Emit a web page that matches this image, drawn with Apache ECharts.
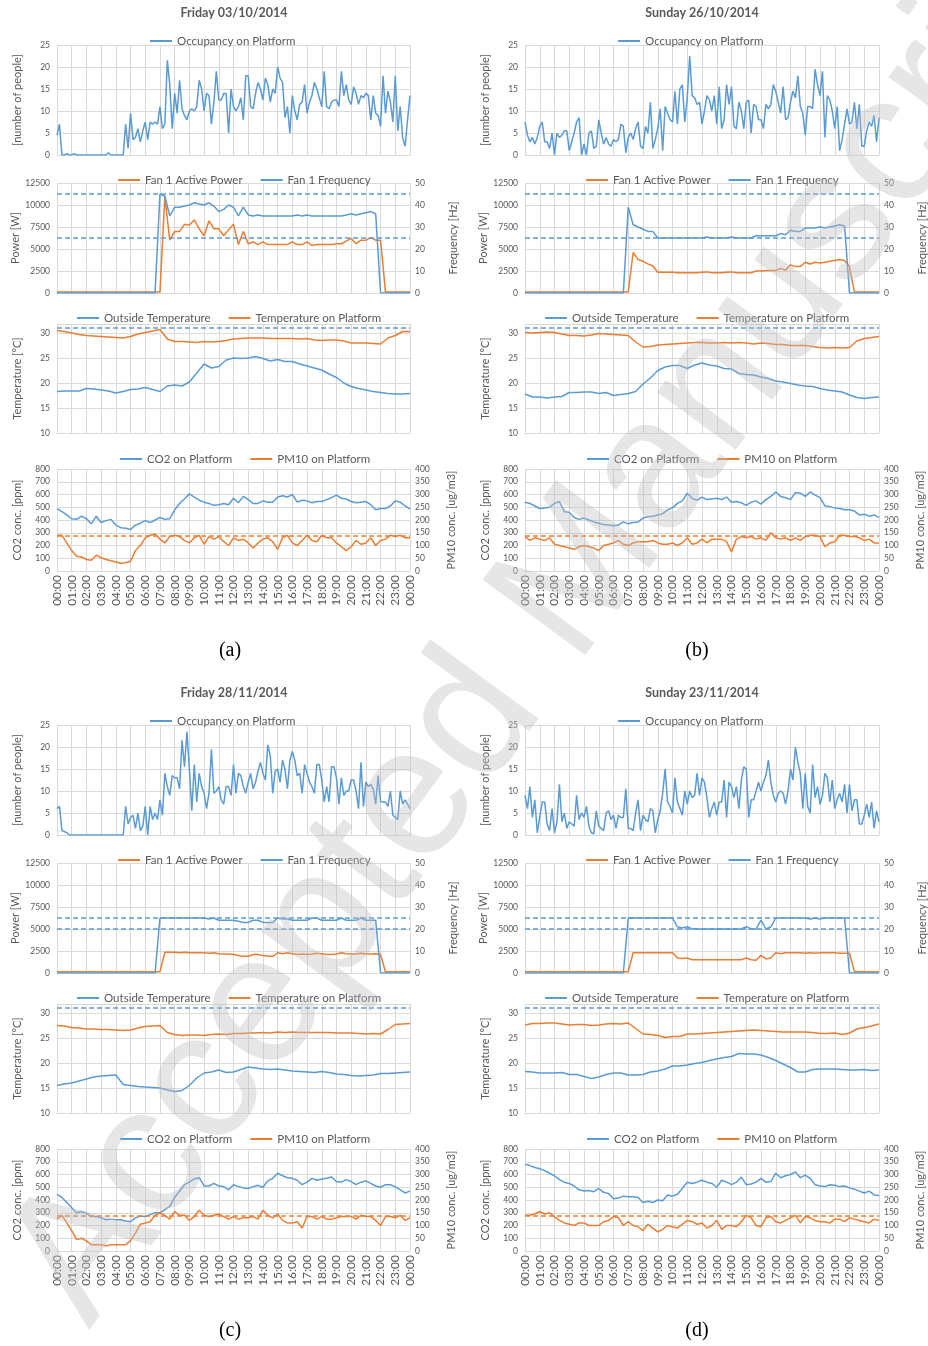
<!DOCTYPE html>
<html>
<head>
<meta charset="utf-8">
<script src="https://cdn.jsdelivr.net/npm/echarts@6/dist/echarts.min.js"></script>
<style>
  html, body { margin: 0; padding: 0; background: #fff; }
  #chart { width: 928px; height: 1346px; }
</style>
</head>
<body>
<div id="chart"></div>
<script>
// ---- data ----
const hourLabels = ['00:00','01:00','02:00','03:00','04:00','05:00','06:00','07:00','08:00','09:00','10:00','11:00',
  '12:00','13:00','14:00','15:00','16:00','17:00','18:00','19:00','20:00','21:00','22:00','23:00','00:00'];
const panelTitles = ['Friday 03/10/2014', 'Sunday 26/10/2014', 'Friday 28/11/2014', 'Sunday 23/11/2014'];
const captions = ['(a)', '(b)', '(c)', '(d)'];

// occupancy, one value every 10 min (one row per hour)
const occA = [4.5,7,0,0,0.3,0, 0,0.3,0,0,0,0, 0,0,0,0,0,0, 0,0,0,0.5,0,0,
  0,0,0,0,7,1.5, 9.5,3.5,4,6,3,5.5, 7.5,3.5,7.5,7,7.5,7, 11,6,7,21.5,16,6,
  14,9.5,17,10.5,9,8, 10,10.5,10,11,17,15, 10,14,13.5,7,12,19, 12.5,12.5,14,14,5,15,
  11,10,11,13,8,18, 18,11,10.5,14,16.5,15, 12.5,17.5,16,12,15,14, 20,17.5,16.5,8.5,11,5,
  13.5,10,8,11.5,12,16, 9.5,12,13.5,16.5,15,13, 11,19,11,10.5,12,12.5, 12.5,11,19,13.5,16,12.5,
  11.5,15.5,14,11.5,13.5,13, 14,13.5,8,13.5,9.5,9, 6.5,18,9.5,14.5,12,7.5, 18,5.5,11,4,2,8,
  13.5];
const occB = [7.5,4.5,3,4,2.5,4, 6.5,7.5,3,3,1.5,5, 0,5,4,4.5,5.5,5.5, 1,3,5,7.5,8.5,0,
  2.5,0,5,5.5,1.5,2, 8,5,2.5,4,2.5,2, 3.5,3,3.5,7,6.5,0.5, 4,5,3.5,6,7.5,2,
  1.5,6.5,5,12,1.5,3.5, 6,10.5,1,11,9.5,8, 7.5,14.5,7,15,16,7.5, 13,22.5,13.5,13,11.5,12,
  7,10,13.5,12.5,10,13.5, 7,15.5,6,8,16,11.5, 15.5,6.5,6,12,10,6, 12,12.5,5,11.5,11,8,
  8,6,11.5,10.5,11.5,16, 14.5,12,9.5,15.5,8,8.5, 12,14.5,13,18,11,9.5, 4.5,11,11,10.5,19.5,16,
  13.5,19,4,13.5,12.5,10, 6,11,1,3.5,7,10.5, 7,7.5,12,6,11.5,2, 2,5.5,7.5,6.5,9,3,
  8.5];
const occC = [6,6.5,1,0.8,0.5,0, 0,0,0,0,0,0, 0,0,0,0,0,0, 0,0,0,0,0,0,
  0,0,0,0,6.5,2.5, 4,4.5,1.5,5,1,2, 6.5,0,6.5,3.5,5,3.5, 8,4.5,14,11,9,13.5,
  13,13,10.5,21.5,15.5,23.5, 15,5.5,16,7.5,14,11, 9.5,6,9.5,19.5,9.5,10, 11,8,7,11,11,9,
  16,9.5,14,13.5,11,9.5, 12,14,10.5,12,14.5,16.5, 14,12.5,20.5,18,9.5,14.5, 15,12,17,15,10.5,17,
  19,17,13.5,14,9.5,16, 14,12,11,9.5,16,16, 12.5,7.5,11,7.5,15.5,15.5, 13,7,13,9,10,10,
  12.5,12.5,10,6,16.5,6.5, 12,11,11.5,10.5,7,13.5, 7.5,7.5,7.5,6.5,10,4.5, 4,3.5,10,7,8,7,
  6];
const occD = [9,6,11,4,8,0.5, 4,7.5,7.5,2.5,1,6, 0.5,3,11.5,3,5,1.5, 3,2.5,2,9,3.5,5,
  4,6.5,2,0.5,0.3,5.5, 2,1.5,1,5,5.5,3.5, 4.5,1.5,4.5,4,4,10.5, 1.5,1.5,1,5,8,1,
  4.5,3.5,3,6,5.5,0.5, 3.5,5.5,9.5,15,7.5,6.5, 5,13,7.5,6,4.5,10, 7,10,8.5,9,14,9,
  13,12,8.5,4,6,7.5, 4.5,7.5,7.5,12.5,4,12, 11,8.5,11,6,12.5,15.5, 15,4,8,8,10,12,
  10,12,13.5,17,12,9, 7.5,9.5,10,9.5,7,10, 15,12.5,20,16.5,14,6, 14,6.5,5,16,8.5,11,
  7,9,14,13,7.5,12.5, 6,8,9.5,7.5,11.5,5, 11.5,5.5,8,8,2.5,2.5, 4.5,7,4,7.5,1.5,5.5,
  3];

// fan power [W] and frequency [Hz], one value every 20 min
const powerA = [120,120,120, 120,120,120, 120,120,120, 120,120,120, 120,120,120, 120,120,120, 120,120,120,
  120,11000,6000, 7000,7000,7800, 7700,8300,7300, 6500,8200,7300, 7300,6500,7200, 7800,5500,7000,
  5600,5800,5500, 5800,5500,5500, 5500,5500,5500, 5800,5500,5500, 5800,5400,5500, 5500,5500,5500,
  5600,5600,5900, 6200,5600,6000, 6000,6300,6000, 6000,120,120, 120,120,120, 120];
const freqA = [0,0,0, 0,0,0, 0,0,0, 0,0,0, 0,0,0, 0,0,0, 0,0,0,
  45,44,35, 39,39,39.5, 40,41,40.5, 40,41,39.5, 37,38,40, 39,35,39,
  35.5,35,35.5, 35,35,35, 35,35,35, 35,35.5,35, 35.5,35,35, 35,35,35,
  35,35,35.5, 36,35.5,36, 36.5,37,36, 0,0,0, 0,0,0, 0];
const powerB = [120,120,120, 120,120,120, 120,120,120, 120,120,120, 120,120,120, 120,120,120, 120,120,120,
  120,4600,3800, 3600,3300,3100, 2350,2350,2350, 2350,2300,2300, 2300,2300,2300, 2350,2400,2300,
  2300,2300,2350, 2400,2300,2300, 2300,2300,2500, 2500,2550,2550, 2550,2800,2600, 3200,3000,3000,
  3500,3300,3500, 3400,3500,3600, 3700,3800,3700, 3000,120,120, 120,120,120, 120];
const freqB = [0,0,0, 0,0,0, 0,0,0, 0,0,0, 0,0,0, 0,0,0, 0,0,0,
  39,31,30, 29,28,28, 25,25,25, 25,25,25, 25,25,25, 25,25.5,25,
  25,25,25, 25.5,25,25, 25,25,26, 26,26,26, 26,27,26.5, 28.5,28,28,
  29.5,29.5,29.5, 30,29.5,30, 30.5,31,30.5, 0,0,0, 0,0,0, 0];
const powerC = [150,150,150, 150,150,150, 150,150,150, 150,150,150, 150,150,150, 150,150,150, 150,150,150,
  150,2350,2350, 2350,2300,2350, 2300,2300,2300, 2300,2250,2300, 2200,2150,2150, 2100,2000,1900,
  1900,2100,2100, 2000,1900,1900, 2300,2200,2300, 2200,2100,2150, 2100,2150,2250, 2200,2100,2100,
  2150,2300,2200, 2150,2150,2250, 2150,2150,2200, 2100,150,150, 150,150,150, 150];
const freqC = [0,0,0, 0,0,0, 0,0,0, 0,0,0, 0,0,0, 0,0,0, 0,0,0,
  25,25,25, 25,25,25, 25,25,25, 25,24.5,25, 24,24,24, 24,23.5,23,
  23,24,24, 23,23,23, 25,24.5,24.5, 24,24,24, 24,25,25, 24,24,24,
  24,25,24, 24,24,25, 24,24,24, 0,0,0, 0,0,0, 0];
const powerD = [150,150,150, 150,150,150, 150,150,150, 150,150,150, 150,150,150, 150,150,150, 150,150,150,
  150,2300,2300, 2300,2300,2300, 2300,2300,2300, 2300,1700,1650, 1700,1500,1500, 1500,1500,1500,
  1500,1500,1500, 1500,1500,1500, 1700,1500,1450, 2000,1600,1700, 2300,2200,2300, 2300,2300,2300,
  2250,2300,2250, 2300,2300,2300, 2300,2250,2250, 2250,150,150, 150,150,150, 150];
const freqD = [0,0,0, 0,0,0, 0,0,0, 0,0,0, 0,0,0, 0,0,0, 0,0,0,
  25,25,25, 25,25,25, 25,25,25, 25,21,20.5, 21,20,20, 20,20,20,
  20,20,20, 20,20,20, 21,20,20, 24,20,21, 25,25,25, 25,25,25,
  25,24.5,25, 24.5,25,25, 25,25,25, 0,0,0, 0,0,0, 0];

// temperatures [°C], one value every 30 min
const outsideA = [18.3,18.4, 18.4,18.4, 18.9,18.8, 18.6,18.4, 18.0,18.3, 18.7,18.8, 19.1,18.7, 18.3,19.4,
  19.6,19.4, 20.2,22.0, 23.8,23.0, 23.3,24.6, 25.0,24.9, 25.0,25.3, 24.9,24.4, 24.7,24.3,
  24.3,23.8, 23.4,23.0, 22.6,21.8, 21.1,20.0, 19.3,18.9, 18.6,18.3, 18.1,17.9, 17.8,17.8, 17.9];
const platformA = [30.5,30.3, 30.0,29.7, 29.5,29.4, 29.3,29.2, 29.1,29.0, 29.3,29.8, 30.1,30.4, 30.7,28.8,
  28.3,28.3, 28.2,28.1, 28.3,28.2, 28.3,28.5, 28.8,28.9, 29.0,29.0, 29.0,28.9, 28.9,28.9,
  28.9,28.8, 28.9,28.6, 28.5,28.6, 28.6,28.4, 28.0,28.0, 28.0,27.9, 27.8,29.0, 29.5,30.3, 30.3];
const outsideB = [17.8,17.2, 17.2,17.0, 17.2,17.3, 18.1,18.1, 18.2,18.2, 17.9,18.1, 17.5,17.7, 17.9,18.3,
  19.8,21.0, 22.5,23.2, 23.5,23.5, 22.9,23.6, 24.0,23.6, 23.4,22.9, 22.8,21.9, 21.7,21.6,
  21.2,20.9, 20.4,20.2, 19.9,19.6, 19.4,19.3, 18.9,18.6, 18.4,18.2, 17.6,17.1, 16.9,17.1, 17.2];
const platformB = [30.1,30.0, 30.1,30.2, 30.1,29.8, 29.5,29.5, 29.4,29.6, 29.9,29.8, 29.7,29.6, 29.5,28.2,
  27.2,27.3, 27.6,27.7, 27.8,27.9, 28.0,28.1, 28.1,28.0, 28.0,28.1, 28.0,28.1, 28.0,27.8,
  28.0,27.9, 27.7,27.7, 27.5,27.5, 27.5,27.3, 27.1,27.0, 27.1,27.0, 27.1,28.4, 28.9,29.1, 29.3];
const outsideC = [15.5,15.8, 16.0,16.4, 16.8,17.2, 17.4,17.5, 17.6,15.7, 15.5,15.3, 15.2,15.1, 15.0,14.6,
  14.3,14.5, 15.5,17.0, 18.0,18.2, 18.6,18.1, 18.2,18.7, 19.2,19.0, 18.8,18.7, 18.8,18.6,
  18.4,18.3, 18.2,18.1, 18.3,18.1, 17.8,17.7, 17.5,17.4, 17.5,17.6, 17.9,17.9, 18.0,18.1, 18.2];
const platformC = [27.5,27.4, 27.1,27.0, 26.8,26.8, 26.7,26.7, 26.6,26.5, 26.6,27.0, 27.3,27.4, 27.5,26.1,
  25.7,25.5, 25.6,25.6, 25.5,25.7, 25.8,25.7, 25.9,25.9, 26.0,26.0, 26.1,26.0, 26.2,26.1,
  26.2,26.1, 26.1,26.1, 26.1,26.1, 26.0,26.0, 26.0,25.9, 25.8,25.9, 25.8,26.7, 27.7,27.8, 27.9];
const outsideD = [18.3,18.2, 18.0,18.0, 18.0,18.1, 17.7,17.7, 17.3,16.9, 17.2,17.7, 18.0,18.0, 17.6,17.6,
  17.7,18.2, 18.4,18.8, 19.4,19.4, 19.6,19.9, 20.1,20.5, 20.8,21.1, 21.3,21.9, 21.8,21.8,
  21.6,21.1, 20.5,19.8, 19.1,18.2, 18.2,18.7, 18.8,18.8, 18.8,18.7, 18.6,18.6, 18.7,18.5, 18.6];
const platformD = [27.6,27.9, 27.9,28.0, 28.0,27.8, 27.6,27.7, 27.7,27.5, 27.6,27.8, 27.9,27.8, 28.0,26.9,
  25.8,25.7, 25.5,25.1, 25.3,25.3, 25.8,25.8, 25.9,26.0, 26.1,26.2, 26.3,26.4, 26.5,26.6,
  26.5,26.4, 26.3,26.2, 26.2,26.2, 26.2,26.1, 25.9,25.9, 26.0,25.7, 26.0,26.8, 27.1,27.4, 27.8];

// CO2 [ppm] and PM10 [ug/m3], one value every 20 min
const co2A = [490,465,440, 410,405,430, 410,370,430, 380,395,405, 360,340,335, 325,360,375, 395,380,400,
  420,405,410, 480,530,565, 605,580,555, 540,530,515, 520,530,520, 570,535,585, 560,530,530,
  550,540,540, 580,590,580, 600,540,555, 550,535,545, 545,560,575, 595,570,565, 545,535,540,
  545,520,480, 490,490,510, 550,540,510, 485];
const pm10A = [140,140,110, 80,58,55, 45,42,62, 52,45,40, 35,30,32, 38,80,100, 130,140,145,
  125,110,135, 140,135,120, 110,130,140, 105,135,125, 135,115,100, 130,120,125, 110,90,110,
  125,130,115, 85,130,140, 110,100,120, 140,120,115, 140,130,130, 110,95,80, 95,120,105,
  110,130,100, 120,125,140, 135,140,130, 130];
const co2B = [540,530,510, 490,495,500, 530,545,465, 460,420,405, 415,400,385, 375,365,360, 355,360,385,
  370,380,385, 415,425,430, 440,450,480, 495,530,550, 610,570,555, 580,560,565, 570,560,580,
  540,545,535, 515,540,550, 525,560,585, 620,585,575, 560,615,610, 585,620,595, 575,510,505,
  495,490,480, 480,470,440, 445,430,440, 420];
const pm10B = [135,120,130, 125,120,130, 105,100,95, 90,85,95, 100,95,90, 80,100,105, 110,120,105,
  100,110,115, 115,115,120, 110,105,105, 110,100,110, 130,105,110, 125,110,125, 125,125,115,
  75,125,135, 130,135,125, 130,120,150, 130,125,130, 120,130,120, 135,140,140, 135,95,110,
  115,140,140, 135,135,130, 120,125,110, 110];
const co2C = [445,420,380, 340,300,310, 295,270,270, 260,245,250, 245,245,235, 230,260,275, 270,285,300,
  300,325,350, 420,470,520, 540,565,575, 510,510,530, 510,505,480, 520,505,495, 490,505,515,
  500,550,570, 610,590,575, 570,555,520, 540,570,555, 565,570,580, 545,540,560, 545,520,540,
  550,530,510, 500,520,520, 505,480,455, 470];
const pm10C = [125,140,110, 80,45,50, 40,25,25, 25,20,25, 25,25,25, 40,70,105, 110,115,140,
  150,140,125, 155,140,140, 120,135,160, 140,135,140, 145,135,125, 135,125,130, 130,135,125,
  160,140,130, 145,120,110, 110,115,90, 135,135,125, 135,125,125, 130,135,135, 135,125,140,
  135,135,120, 100,135,135, 130,140,120, 130];
const co2D = [680,670,655, 645,630,610, 590,560,540, 530,510,480, 470,475,465, 490,460,450, 410,415,430,
  425,425,420, 380,390,380, 400,395,440, 430,445,490, 540,530,540, 555,540,530, 500,555,540,
  520,540,580, 520,525,540, 570,540,545, 610,575,590, 600,620,575, 595,570,520, 510,505,520,
  515,505,510, 495,485,470, 455,470,440, 435];
const pm10D = [140,140,145, 155,145,150, 135,120,110, 105,100,110, 110,100,100, 100,115,120, 135,130,100,
  115,100,95, 80,105,90, 75,85,100, 95,90,105, 120,115,105, 110,90,100, 120,85,100,
  100,95,115, 140,130,100, 95,130,135, 115,110,120, 130,140,110, 135,130,120, 115,115,110,
  125,125,115, 130,125,120, 115,110,125, 120];

// dashed reference levels
const freqRefs = [[45, 25], [45, 25], [25, 20], [25, 20]];
const tempRef = 31;
const pm10Ref = 140;

// ---- layout / style ----
const BLUE = '#5b9bd5', ORANGE = '#ed7d31', GRIDC = '#d9d9d9', TXT = '#595959';
const FONT = 'Lato, "Open Sans", sans-serif';
const colX = [57, 525];
const plotW = [353, 354];
const rowY = [0, 680];
const titleX = [234, 702];
const captionX = [230, 697];
const legendX = [[145, 113, 72, 115], [613, 581, 540, 582]];

const panels = [
  { occ: occA, power: powerA, freq: freqA, outside: outsideA, platform: platformA, co2: co2A, pm10: pm10A },
  { occ: occB, power: powerB, freq: freqB, outside: outsideB, platform: platformB, co2: co2B, pm10: pm10B },
  { occ: occC, power: powerC, freq: freqC, outside: outsideC, platform: platformC, co2: co2C, pm10: pm10C },
  { occ: occD, power: powerD, freq: freqD, outside: outsideD, platform: platformD, co2: co2D, pm10: pm10D }
];

const toPairs = (vals, stepMin) => vals.map((v, i) => [i * stepMin / 60, v]);

const grid = [], xAxis = [], yAxis = [], series = [], legend = [], graphic = [];

function addGrid(left, top, width, height, showLabels) {
  const gi = grid.length;
  grid.push({ left: left, top: top, width: width, height: height, outerBoundsMode: 'none' });
  xAxis.push({
    gridIndex: gi, type: 'value', min: 0, max: 24, interval: 1,
    axisLine: { show: true, lineStyle: { color: GRIDC } },
    axisTick: { show: false },
    splitLine: { show: true, lineStyle: { color: GRIDC, width: 1 } },
    axisLabel: showLabels
      ? { show: true, rotate: 90, fontSize: 12, color: TXT, margin: 4, fontFamily: FONT,
          formatter: v => hourLabels[Math.round(v)] }
      : { show: false }
  });
  return gi;
}

function addY(gi, opt) {
  const right = opt.position === 'right';
  yAxis.push({
    gridIndex: gi, type: 'value', position: right ? 'right' : 'left',
    min: opt.min, max: opt.max, interval: opt.interval,
    axisLine: { show: false }, axisTick: { show: false },
    splitLine: { show: !right, lineStyle: { color: GRIDC, width: 1 } },
    axisLabel: { fontSize: 8.5, color: TXT, margin: right ? 5 : 7, fontFamily: FONT,
      formatter: opt.formatter || (v => v) },
    name: opt.name, nameLocation: 'middle', nameRotate: 90, nameGap: opt.nameGap,
    nameTextStyle: { fontSize: 11, color: TXT, fontFamily: FONT }
  });
  return yAxis.length - 1;
}

function addLine(name, gi, yi, vals, stepMin, color, refs, refColor) {
  const s = {
    type: 'line', name: name, xAxisIndex: gi, yAxisIndex: yi,
    data: toPairs(vals, stepMin), showSymbol: false, symbol: 'none', silent: true,
    lineStyle: { color: color, width: 1.5 }, itemStyle: { color: color }, z: 3
  };
  if (refs) {
    s.markLine = {
      silent: true, symbol: ['none', 'none'], label: { show: false },
      lineStyle: { color: refColor, type: [5, 3], width: 1.5 },
      data: refs.map(v => ({ yAxis: v }))
    };
  }
  series.push(s);
}

function addLegend(left, centerY, names) {
  legend.push({
    left: left, top: centerY - 10, itemWidth: 22, itemHeight: 2, icon: 'rect', itemGap: 18,
    selectedMode: false, data: names,
    textStyle: { color: TXT, fontSize: 11.5, fontFamily: FONT }
  });
}

panels.forEach((p, k) => {
  const col = k % 2, row = Math.floor(k / 2);
  const L = colX[col], W = plotW[col], T = rowY[row];
  const lx = legendX[col];

  // occupancy
  let g = addGrid(L, T + 45, W, 110, false);
  let y1 = addY(g, { min: 0, max: 25, interval: 5, name: '[number of people]', nameGap: 34 });
  addLine('Occupancy on Platform', g, y1, p.occ, 10, BLUE);
  addLegend(lx[0], T + 40, ['Occupancy on Platform']);

  // fan
  g = addGrid(L, T + 183, W, 110, false);
  y1 = addY(g, { min: 0, max: 12500, interval: 2500, name: 'Power [W]', nameGap: 34 });
  let y2 = addY(g, { position: 'right', min: 0, max: 50, interval: 10, name: 'Frequency [Hz]', nameGap: 38 });
  addLine('Fan 1 Active Power', g, y1, p.power, 20, ORANGE);
  addLine('Fan 1 Frequency', g, y2, p.freq, 20, BLUE, freqRefs[k], BLUE);
  addLegend(lx[1], T + 179, ['Fan 1 Active Power', 'Fan 1 Frequency']);

  // temperature
  g = addGrid(L, T + 324, W, 109, false);
  y1 = addY(g, { min: 10, max: 31.8, interval: 5, name: 'Temperature [°C]', nameGap: 34,
    formatter: v => (v % 5 === 0 ? v : '') });
  addLine('Outside Temperature', g, y1, p.outside, 30, BLUE, [tempRef], BLUE);
  addLine('Temperature on Platform', g, y1, p.platform, 30, ORANGE);
  addLegend(lx[2], T + 317, ['Outside Temperature', 'Temperature on Platform']);

  // air quality
  g = addGrid(L, T + 469, W, 102, true);
  y1 = addY(g, { min: 0, max: 800, interval: 100, name: 'CO2 conc. [ppm]', nameGap: 34 });
  y2 = addY(g, { position: 'right', min: 0, max: 400, interval: 50, name: 'PM10 conc. [ug/m3]', nameGap: 36 });
  addLine('CO2 on Platform', g, y1, p.co2, 20, BLUE);
  addLine('PM10 on Platform', g, y2, p.pm10, 20, ORANGE, [pm10Ref], ORANGE);
  addLegend(lx[3], T + 458, ['CO2 on Platform', 'PM10 on Platform']);

  graphic.push({
    type: 'text', x: titleX[col], y: T + 13, silent: true,
    style: { text: panelTitles[k], fill: TXT, fontSize: 12.5, fontWeight: 'bold', fontFamily: FONT,
      align: 'center', verticalAlign: 'middle' }
  });
  graphic.push({
    type: 'text', x: captionX[col], y: T + 651, silent: true,
    style: { text: captions[k], fill: '#000', fontSize: 20, fontFamily: '"Liberation Serif", "DejaVu Serif", serif',
      align: 'center', verticalAlign: 'middle' }
  });
});

// watermark
graphic.push({
  type: 'text', x: 48, y: 1300, rotation: 53.7 * Math.PI / 180, z: 100, silent: true,
  style: { text: 'Accepted Manuscript', fontSize: 185, fontFamily: '"Liberation Sans", Arial, sans-serif',
    fill: 'rgba(190,190,190,0.38)', align: 'left', verticalAlign: 'middle' }
});

const myChart = echarts.init(document.getElementById('chart'), null, { renderer: 'canvas' });
const option = {
  animation: false,
  backgroundColor: '#fff',
  textStyle: { fontFamily: FONT },
  grid: grid, xAxis: xAxis, yAxis: yAxis, legend: legend, series: series, graphic: graphic
};
option && myChart.setOption(option);
</script>
</body>
</html>
